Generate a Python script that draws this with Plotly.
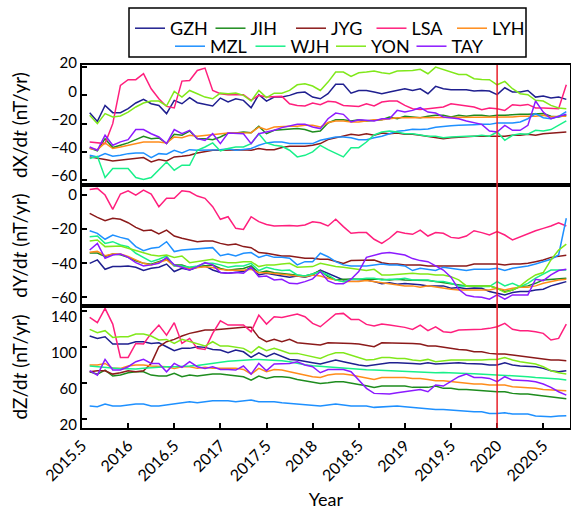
import plotly.graph_objects as go
from plotly.subplots import make_subplots

# Monthly epochs (decimal years) of the secular-variation series
N_MONTHS = 63
years = [2015.5 + (k + 1) / 12 for k in range(N_MONTHS)]

stations = ["GZH", "JIH", "JYG", "LSA", "LYH", "MZL", "WJH", "YON", "TAY"]
colors = {
    "GZH": "#1f1f8f", "JIH": "#1e8c1e", "JYG": "#8b1a1a", "LSA": "#ff1f7d",
    "LYH": "#ff8c1a", "MZL": "#1e90ff", "WJH": "#19f08a", "YON": "#80e81a",
    "TAY": "#8c1aff",
}

# ---- dX/dt (nT/yr) ----
GZH_dX = [-12.2, -18.4, -7.1, -12.2, -12.2, -9.4, -5.4, -2.8, -5.9, -7.1,
          -12.9, -3.5, -5.9, -1.6, -5.2, -6.6, -7.5, -1.9, -4.7, -2.4,
          -3.5, -8.7, 0.5, -4.0, -1.2, -1.2, 0.0, 1.9, 2.4, -1.2,
          -2.4, 1.2, 7.8, 7.8, 1.6, 3.5, 3.5, 2.4, 1.2, 2.4,
          3.5, 4.7, 3.5, 4.7, 1.2, 6.4, 4.7, 4.0, 4.0, 4.0,
          3.1, 3.5, 3.1, 0.5, 5.4, 2.4, 2.4, 3.5, -1.2, -0.5,
          -1.9, -1.2, -2.8]
JIH_dX = [-37.2, -39.3, -30.6, -36.9, -35.3, -33.6, -31.3, -28.9, -30.6, -30.1,
          -34.1, -27.5, -28.2, -25.2, -30.6, -30.6, -31.3, -29.4, -26.6, -26.6,
          -25.9, -26.4, -21.9, -27.1, -24.7, -24.2, -23.5, -23.5, -24.2, -25.9,
          -25.2, -19.5, -17.2, -17.2, -18.1, -17.2, -18.1, -17.6, -17.2, -15.3,
          -16.5, -14.8, -15.3, -15.8, -14.8, -14.1, -14.1, -15.3, -14.1, -14.8,
          -14.1, -14.1, -14.8, -14.1, -14.1, -13.6, -13.4, -13.4, -13.4, -12.9,
          -14.8, -15.3, -14.1]
JYG_dX = [-43.5, -44.7, -45.4, -46.4, -45.9, -45.4, -44.7, -44.0, -47.1, -45.4,
          -46.4, -43.5, -43.1, -42.4, -40.7, -40.0, -38.8, -38.8, -38.6, -38.8,
          -38.4, -38.8, -37.6, -38.4, -38.4, -36.9, -36.0, -36.0, -36.0, -35.3,
          -34.1, -31.3, -29.9, -28.9, -27.5, -28.2, -27.1, -28.2, -26.6, -27.1,
          -26.6, -27.5, -27.5, -28.2, -28.9, -29.4, -30.6, -29.9, -29.4, -29.4,
          -28.9, -28.9, -28.9, -28.9, -28.9, -28.2, -28.2, -27.5, -28.2, -27.1,
          -26.6, -25.9, -25.9]
LSA_dX = [-32.9, -33.4, -34.1, -20.0, 7.1, 11.1, 11.1, 15.3, 4.7, -2.4,
          -7.8, -8.9, 10.1, 10.6, 17.6, 19.3, 3.5, 1.2, 0.5, 0.5,
          0.5, -3.5, 0.0, -1.2, -1.2, -0.7, -5.9, -7.1, -7.5, -5.4,
          -6.6, -4.2, -4.7, -7.1, -7.5, -7.8, -5.9, -7.5, -4.7, -4.0,
          -4.0, -7.1, -9.4, -9.9, -9.4, -8.9, -8.2, -5.9, -6.6, -7.8,
          -8.2, -10.1, -8.9, -9.4, -10.6, -6.6, -7.1, -6.4, -8.9, -8.9,
          -8.9, -9.4, 7.5]
LYH_dX = [-37.6, -38.4, -33.6, -37.6, -36.5, -35.3, -33.6, -32.9, -32.9, -32.9,
          -33.6, -29.4, -29.9, -28.2, -28.9, -28.2, -27.5, -27.1, -26.6, -26.6,
          -26.4, -26.4, -22.4, -24.2, -22.4, -21.9, -21.9, -21.9, -21.2, -21.2,
          -22.4, -19.2, -18.1, -18.1, -18.8, -18.8, -18.1, -17.2, -17.2, -16.5,
          -15.8, -15.8, -15.8, -15.8, -15.8, -15.3, -15.8, -15.8, -15.3, -15.8,
          -15.3, -15.3, -15.8, -15.8, -15.3, -15.3, -14.8, -14.8, -14.8, -14.1,
          -15.3, -14.8, -14.8]
MZL_dX = [-42.4, -43.5, -41.2, -43.1, -42.4, -41.2, -40.7, -40.7, -44.0, -41.2,
          -41.6, -38.8, -40.7, -38.4, -38.8, -38.8, -38.4, -38.4, -37.8, -38.8,
          -38.2, -37.6, -35.3, -33.6, -32.9, -32.9, -34.1, -34.1, -34.1, -34.1,
          -31.8, -30.6, -29.4, -29.4, -29.9, -31.3, -31.3, -29.9, -28.9, -27.1,
          -25.4, -24.8, -24.0, -24.2, -23.7, -22.6, -21.8, -21.4, -21.2, -20.7,
          -20.7, -20.5, -20.5, -19.5, -19.5, -19.5, -18.8, -16.5, -12.9, -15.8,
          -16.5, -14.8, -11.5]
WJH_dX = [-44.7, -43.1, -58.1, -51.8, -51.8, -51.8, -58.1, -59.5, -58.1, -52.9,
          -47.1, -52.9, -49.4, -49.4, -38.8, -36.5, -33.6, -39.3, -37.6, -36.5,
          -36.5, -34.1, -27.1, -33.6, -35.3, -36.0, -38.8, -43.5, -42.4, -40.0,
          -35.3, -38.4, -41.0, -43.5, -37.0, -37.0, -33.0, -28.0, -25.9, -25.2,
          -25.9, -27.1, -27.1, -28.2, -28.9, -28.9, -29.9, -29.4, -28.9, -28.9,
          -28.9, -28.2, -28.9, -25.9, -31.8, -28.2, -27.1, -27.5, -24.7, -25.2,
          -24.2, -21.2, -18.0]
YON_dX = [-14.1, -20.0, -12.9, -15.3, -14.6, -11.8, -8.2, -5.4, -4.0, -4.0,
          -7.5, 2.8, -1.2, 3.5, 1.2, -1.2, -2.4, 1.6, 1.2, 1.6,
          0.0, -4.0, 3.5, -1.6, 1.6, 1.6, 3.5, 7.5, 8.2, 6.6,
          3.5, 9.4, 16.5, 16.5, 13.4, 16.0, 16.5, 17.2, 16.0, 15.3,
          17.2, 17.2, 17.6, 18.4, 15.3, 20.0, 18.4, 16.5, 14.8, 14.8,
          11.8, 11.3, 11.1, 7.5, 9.9, 4.7, 1.2, 0.5, -3.5, -4.0,
          -7.1, -8.9, -9.4]
TAY_dX = [-36.5, -38.8, -28.2, -35.3, -32.9, -31.3, -24.2, -24.2, -27.1, -29.4,
          -34.1, -24.2, -27.1, -24.7, -30.6, -31.8, -27.1, -34.1, -26.6, -27.1,
          -27.1, -34.1, -27.1, -25.9, -24.7, -22.8, -21.9, -20.5, -20.5, -22.4,
          -23.5, -16.5, -12.5, -13.4, -18.8, -17.2, -17.6, -18.1, -16.5, -16.5,
          -10.6, -11.8, -10.6, -8.7, -11.8, -12.5, -15.3, -15.8, -16.5, -18.1,
          -19.5, -20.5, -25.2, -25.9, -21.2, -24.7, -24.7, -21.2, -4.0, -11.8,
          -16.5, -14.8, -13.4]

# ---- dY/dt (nT/yr) ----
GZH_dY = [-40.0, -38.0, -43.5, -41.9, -41.9, -41.5, -42.3, -44.2, -42.9, -42.3,
          -40.4, -44.8, -42.9, -43.9, -42.3, -41.5, -43.9, -45.4, -45.8, -45.4,
          -44.8, -42.3, -46.8, -45.8, -46.8, -47.4, -48.1, -47.4, -48.1, -46.8,
          -43.9, -45.8, -47.8, -49.7, -49.3, -49.7, -49.7, -50.7, -52.0, -51.4,
          -52.3, -51.8, -52.0, -52.6, -53.2, -53.2, -53.2, -54.6, -54.1, -54.9,
          -54.4, -54.6, -56.5, -57.5, -58.5, -57.1, -56.5, -56.5, -55.6, -55.2,
          -53.2, -52.0, -50.7]
JIH_dY = [-34.0, -34.0, -36.0, -34.5, -35.0, -36.5, -38.5, -40.0, -40.5, -39.0,
          -37.5, -41.0, -41.0, -42.5, -42.0, -41.5, -41.0, -43.0, -44.0, -43.5,
          -43.0, -41.5, -45.5, -44.5, -45.5, -46.0, -46.5, -46.8, -47.4, -46.2,
          -44.2, -47.8, -49.7, -49.3, -49.3, -49.3, -48.9, -49.3, -49.3, -49.7,
          -49.3, -49.7, -49.7, -49.7, -50.1, -50.7, -51.3, -52.0, -52.6, -53.2,
          -53.2, -53.2, -53.2, -54.6, -56.5, -55.6, -53.6, -53.2, -51.7, -49.7,
          -49.3, -49.3, -48.7]
JYG_dY = [-10.7, -13.1, -15.0, -13.6, -14.2, -16.2, -18.9, -20.9, -20.5, -22.8,
          -20.5, -24.0, -25.3, -26.3, -27.3, -26.9, -26.9, -28.3, -29.2, -28.7,
          -30.2, -30.8, -33.7, -34.1, -35.1, -35.7, -35.7, -36.5, -37.0, -37.0,
          -37.6, -37.6, -39.0, -40.0, -38.4, -38.4, -38.0, -38.0, -39.6, -40.4,
          -40.4, -40.9, -40.9, -40.9, -41.5, -41.5, -41.5, -41.9, -41.5, -41.5,
          -40.4, -40.4, -40.4, -40.4, -40.9, -40.4, -40.4, -40.0, -39.0, -38.0,
          -36.5, -35.7, -35.3]
LSA_dY = [3.3, 3.9, 0.0, -8.4, 0.6, 2.5, 0.0, 2.9, 0.6, -6.8,
          -1.9, -1.9, 2.5, 1.9, -0.6, -1.9, -6.8, -14.2, -12.7, -19.5,
          -20.1, -12.7, -15.6, -17.2, -18.1, -17.9, -17.9, -18.1, -17.5, -15.6,
          -16.2, -18.1, -14.2, -18.5, -22.4, -22.0, -22.0, -25.9, -28.3, -25.3,
          -21.4, -22.4, -23.0, -20.5, -24.0, -22.0, -22.4, -24.8, -25.3, -24.0,
          -20.9, -22.0, -23.4, -21.4, -23.4, -26.3, -24.4, -22.4, -20.9, -19.5,
          -18.1, -16.2, -18.1]
LYH_dY = [-33.5, -33.0, -35.5, -34.5, -34.5, -36.0, -38.0, -40.0, -41.0, -39.5,
          -38.0, -41.5, -42.0, -43.0, -42.5, -42.0, -42.5, -43.5, -44.0, -44.0,
          -44.0, -43.5, -45.5, -45.5, -46.0, -46.5, -47.0, -47.4, -47.8, -46.8,
          -47.4, -48.7, -49.7, -50.7, -50.7, -50.7, -50.1, -50.7, -51.7, -52.0,
          -52.6, -53.2, -53.2, -54.0, -53.2, -54.0, -54.6, -55.2, -55.6, -55.6,
          -55.6, -55.6, -55.6, -54.6, -55.6, -54.6, -54.0, -54.0, -53.2, -51.7,
          -50.7, -49.7, -49.3]
MZL_dY = [-20.9, -22.4, -25.9, -23.4, -24.8, -25.9, -30.2, -32.6, -31.2, -30.6,
          -27.3, -33.1, -32.2, -31.8, -31.2, -30.8, -30.8, -35.5, -34.5, -35.7,
          -34.1, -33.7, -36.5, -35.1, -36.5, -36.5, -37.0, -40.9, -39.0, -39.0,
          -34.1, -36.1, -39.0, -40.9, -41.5, -41.5, -41.5, -40.9, -40.4, -40.9,
          -40.9, -41.5, -44.2, -42.9, -43.5, -44.2, -42.3, -42.9, -43.5, -44.2,
          -43.5, -43.5, -43.5, -42.9, -44.2, -42.9, -42.3, -41.5, -40.4, -39.0,
          -37.6, -35.1, -13.6]
WJH_dY = [-24.4, -24.0, -28.3, -27.3, -29.2, -30.2, -34.1, -36.5, -39.0, -37.6,
          -35.7, -41.5, -41.5, -42.3, -41.5, -40.0, -40.0, -40.9, -42.3, -41.5,
          -41.5, -40.0, -44.2, -42.3, -43.5, -44.2, -43.9, -46.8, -47.4, -46.2,
          -44.8, -46.8, -49.7, -50.7, -49.3, -49.3, -48.7, -48.7, -49.7, -49.3,
          -49.3, -48.7, -49.7, -49.7, -49.7, -50.7, -50.7, -51.7, -53.2, -53.2,
          -53.6, -53.6, -53.6, -50.7, -53.2, -51.7, -53.6, -51.7, -48.7, -46.2,
          -43.9, -43.9, -43.9]
YON_dY = [-26.9, -26.3, -30.2, -29.8, -29.8, -31.2, -32.6, -33.7, -35.1, -35.7,
          -35.1, -36.5, -35.7, -39.6, -39.0, -38.4, -37.6, -39.0, -39.6, -39.6,
          -39.0, -39.0, -41.9, -40.9, -40.9, -40.4, -40.0, -42.3, -42.3, -41.9,
          -40.0, -40.9, -41.9, -42.3, -42.9, -43.5, -44.2, -43.5, -46.8, -46.8,
          -46.4, -46.2, -45.8, -46.2, -46.2, -46.8, -46.8, -47.8, -49.7, -53.2,
          -53.2, -53.2, -53.2, -54.6, -57.1, -55.6, -53.2, -49.7, -46.8, -45.4,
          -38.0, -32.2, -28.7]
TAY_dY = [-32.2, -28.3, -37.0, -35.1, -34.5, -36.5, -39.6, -41.5, -40.9, -40.0,
          -36.5, -40.9, -42.3, -43.9, -41.9, -39.6, -40.9, -45.4, -45.8, -45.4,
          -45.8, -42.3, -47.8, -47.4, -49.7, -49.3, -51.7, -52.0, -50.7, -49.1,
          -44.8, -50.3, -52.0, -52.0, -49.3, -44.8, -36.5, -35.1, -34.1, -33.7,
          -34.5, -35.1, -37.2, -38.4, -39.0, -41.5, -43.9, -48.1, -55.2, -58.7,
          -59.5, -59.8, -61.0, -58.5, -61.0, -58.5, -58.5, -58.5, -49.3, -50.1,
          -46.8, -44.2, -43.5]

# ---- dZ/dt (nT/yr) ----
GZH_dZ = [112.1, 109.5, 111.4, 103.2, 103.2, 103.2, 105.8, 105.8, 103.9, 104.7,
          100.2, 95.8, 98.4, 98.4, 100.2, 99.5, 97.2, 96.5, 93.5, 96.5,
          94.6, 88.3, 93.5, 89.1, 92.8, 89.1, 86.1, 85.4, 83.5, 82.4,
          80.9, 83.5, 85.4, 83.5, 81.6, 79.8, 78.7, 79.8, 81.6, 82.4,
          82.4, 82.4, 81.6, 80.9, 82.4, 80.9, 81.6, 81.6, 82.4, 81.6,
          81.6, 80.9, 79.8, 79.8, 82.4, 79.8, 78.7, 77.9, 77.9, 76.1,
          73.5, 72.3, 73.5]
JIH_dZ = [72.3, 69.7, 74.2, 67.5, 68.6, 71.2, 72.3, 72.3, 68.6, 67.5,
          67.5, 70.5, 66.8, 68.6, 67.5, 68.6, 69.7, 69.7, 68.6, 67.5,
          66.8, 63.0, 67.5, 64.9, 66.8, 66.8, 66.0, 63.8, 62.3, 61.2,
          59.3, 60.1, 61.2, 61.2, 60.1, 58.2, 56.7, 54.9, 56.4, 56.4,
          56.4, 56.4, 54.9, 54.9, 54.9, 56.4, 53.8, 53.8, 52.6, 52.6,
          51.9, 51.2, 51.2, 50.0, 50.0, 48.2, 47.4, 47.4, 46.3, 45.2,
          43.7, 42.6, 42.2]
JYG_dZ = [72.3, 73.5, 73.5, 69.7, 71.2, 73.5, 72.3, 73.5, 81.6, 100.2,
          105.8, 108.4, 112.1, 115.1, 117.0, 118.8, 118.8, 119.6, 120.7, 121.8,
          121.8, 121.8, 110.6, 105.8, 108.4, 105.8, 108.4, 104.7, 103.9, 102.5,
          102.1, 104.7, 104.7, 103.9, 103.9, 103.2, 102.1, 100.2, 104.7, 104.7,
          104.7, 104.7, 103.9, 103.2, 101.0, 101.0, 99.5, 98.4, 97.2, 96.5,
          94.6, 94.6, 92.8, 92.0, 92.0, 90.9, 89.8, 89.1, 88.3, 87.2,
          85.4, 85.4, 84.6]
LSA_dZ = [132.9, 127.0, 143.0, 125.5, 88.3, 88.3, 103.9, 103.2, 115.1, 124.4,
          113.2, 127.0, 103.9, 109.5, 98.4, 97.2, 115.1, 129.2, 124.4, 124.4,
          124.4, 117.0, 135.5, 125.5, 133.7, 132.9, 134.4, 136.7, 133.7, 126.2,
          122.5, 130.0, 136.7, 137.4, 130.7, 130.7, 125.1, 123.3, 125.5, 124.4,
          123.3, 121.8, 119.6, 124.4, 118.1, 122.5, 117.0, 116.2, 118.8, 118.8,
          118.8, 119.6, 120.7, 122.5, 126.2, 119.6, 118.1, 118.1, 117.0, 115.1,
          107.7, 109.5, 125.5]
LYH_dZ = [79.8, 79.8, 81.6, 76.1, 76.1, 78.7, 79.8, 79.8, 78.7, 78.7,
          77.9, 76.1, 77.9, 77.9, 76.1, 77.2, 76.1, 76.1, 76.1, 76.1,
          74.9, 69.7, 76.1, 72.3, 74.9, 74.2, 72.3, 70.5, 68.6, 66.8,
          66.0, 68.6, 69.7, 69.7, 68.6, 66.8, 64.9, 63.8, 66.0, 66.0,
          66.0, 66.0, 64.9, 64.9, 63.8, 62.3, 62.3, 61.2, 60.1, 59.3,
          58.6, 58.6, 57.5, 57.5, 57.5, 55.6, 54.9, 54.9, 53.8, 52.6,
          51.9, 51.9, 51.2]
MZL_dZ = [34.1, 33.3, 36.3, 34.1, 34.1, 35.2, 36.3, 36.3, 34.1, 34.1,
          35.2, 36.3, 37.0, 38.9, 37.8, 38.9, 40.0, 40.0, 40.0, 38.9,
          40.0, 40.7, 38.9, 38.9, 38.9, 37.8, 37.0, 36.3, 35.2, 34.1,
          34.1, 35.2, 36.3, 35.2, 34.1, 34.1, 34.1, 32.6, 33.3, 34.1,
          34.1, 33.3, 32.6, 31.5, 31.5, 30.3, 30.3, 29.6, 29.6, 28.8,
          27.7, 27.7, 25.9, 25.9, 26.6, 25.1, 25.1, 25.1, 22.9, 22.2,
          22.2, 22.9, 23.3]
WJH_dZ = [78.7, 77.9, 77.2, 76.1, 75.7, 75.7, 75.3, 76.1, 76.8, 77.5,
          77.9, 77.9, 77.9, 78.7, 79.4, 80.5, 82.4, 83.1, 83.9, 84.6,
          85.4, 85.7, 86.1, 85.7, 85.4, 84.6, 83.5, 81.5, 80.2, 79.0,
          78.3, 77.5, 76.8, 76.1, 75.3, 74.9, 74.6, 74.2, 73.8, 73.5,
          73.5, 73.1, 72.3, 72.0, 71.2, 71.2, 71.5, 70.9, 70.9, 70.5,
          70.1, 69.7, 69.4, 68.6, 68.3, 67.9, 67.5, 66.8, 66.0, 65.7,
          64.9, 64.2, 63.0]
YON_dZ = [119.6, 115.8, 118.1, 110.6, 111.4, 111.4, 114.3, 114.3, 112.1, 107.7,
          108.4, 103.9, 108.4, 105.8, 103.9, 101.0, 105.8, 101.0, 101.0, 99.5,
          98.4, 93.5, 100.2, 95.8, 98.4, 95.8, 92.8, 92.8, 90.9, 89.1,
          87.2, 90.9, 93.5, 93.5, 90.9, 88.3, 85.4, 86.1, 88.3, 88.3,
          87.2, 87.2, 85.4, 84.6, 86.1, 83.5, 84.6, 85.4, 85.4, 85.4,
          84.6, 85.4, 86.1, 86.1, 88.3, 85.4, 83.5, 82.4, 80.9, 77.9,
          73.5, 71.2, 69.7]
TAY_dZ = [73.5, 68.6, 86.1, 74.2, 74.2, 77.9, 83.5, 86.1, 81.6, 81.6,
          72.3, 81.6, 77.2, 83.5, 77.9, 76.1, 77.9, 74.9, 74.9, 74.2,
          78.7, 69.7, 81.6, 73.5, 80.9, 81.6, 81.6, 83.5, 79.8, 77.9,
          71.2, 74.9, 74.9, 74.9, 72.3, 63.0, 53.8, 48.2, 47.4, 47.4,
          48.9, 50.0, 51.2, 52.6, 50.0, 57.5, 56.4, 61.2, 66.8, 69.7,
          66.0, 66.0, 64.9, 61.2, 66.8, 63.0, 63.0, 62.3, 61.2, 58.6,
          54.9, 50.0, 46.3]

dX = {"GZH": GZH_dX, "JIH": JIH_dX, "JYG": JYG_dX, "LSA": LSA_dX, "LYH": LYH_dX,
      "MZL": MZL_dX, "WJH": WJH_dX, "YON": YON_dX, "TAY": TAY_dX}
dY = {"GZH": GZH_dY, "JIH": JIH_dY, "JYG": JYG_dY, "LSA": LSA_dY, "LYH": LYH_dY,
      "MZL": MZL_dY, "WJH": WJH_dY, "YON": YON_dY, "TAY": TAY_dY}
dZ = {"GZH": GZH_dZ, "JIH": JIH_dZ, "JYG": JYG_dZ, "LSA": LSA_dZ, "LYH": LYH_dZ,
      "MZL": MZL_dZ, "WJH": WJH_dZ, "YON": YON_dZ, "TAY": TAY_dZ}

x_tickvals = [2015.5, 2016, 2016.5, 2017, 2017.5, 2018, 2018.5, 2019, 2019.5, 2020, 2020.5]
x_ticktext = ["2015.5", "2016", "2016.5", "2017", "2017.5", "2018", "2018.5",
              "2019", "2019.5", "2020", "2020.5"]
# (values, axis title, y range, y ticks, tick-label nudge in px so that labels
#  of neighbouring panels do not collide at the shared borders; positive = down)
panels = [
    (dX, "dX/d<i>t</i> (nT/yr)", [-63.5, 21.5], [-60, -40, -20, 0, 20], -4),
    (dY, "dY/d<i>t</i> (nT/yr)", [-65, 5.8], [-60, -40, -20, 0], 0),
    (dZ, "dZ/d<i>t</i> (nT/yr)", [9.6, 145.6], [20, 60, 100, 140], 6),
]
event_year = 2020.0
row1_legend = ["GZH", "JIH", "JYG", "LSA", "LYH"]

FONT = "Lato, 'Open Sans', sans-serif"
fig = make_subplots(rows=3, cols=1, shared_xaxes=True, vertical_spacing=0)

for r, (comp, title, yr, yticks, shift) in enumerate(panels, start=1):
    for st in stations:
        fig.add_trace(
            go.Scatter(
                x=years, y=comp[st], mode="lines", name=st,
                line=dict(color=colors[st], width=1.5),
                showlegend=(r == 1),
                legend="legend" if st in row1_legend else "legend2",
            ),
            row=r, col=1,
        )
    fig.update_yaxes(
        row=r, col=1, range=yr, tickmode="array", tickvals=yticks,
        showline=True, mirror=True, linecolor="black", linewidth=2,
        showgrid=False, zeroline=False, ticks="inside", ticklen=5,
        tickwidth=1.5, tickcolor="black", tickfont=dict(size=15),
        ticklabelshift=shift,
        title=dict(text=title, font=dict(size=19), standoff=18),
        automargin=False,
    )
    fig.update_xaxes(
        row=r, col=1, range=[2015.5, 2020.79], tickmode="array",
        tickvals=x_tickvals, ticktext=x_ticktext,
        showline=True, mirror=True, linecolor="black", linewidth=2,
        showgrid=False, zeroline=False,
        ticks="inside" if r == 3 else "", ticklen=5, tickwidth=1.5,
        tickcolor="black", showticklabels=(r == 3), tickangle=-45,
        tickfont=dict(size=16), automargin=False,
    )

fig.update_layout(yaxis=dict(domain=[0.669, 1.0]),
                  yaxis2=dict(domain=[0.336, 0.669]),
                  yaxis3=dict(domain=[0.0, 0.336]))
fig.update_xaxes(row=3, col=1, title=dict(text="Year", font=dict(size=18), standoff=10))

legend_common = dict(
    orientation="h", xanchor="left", yanchor="top",
    entrywidth=35.5, entrywidthmode="pixels",
    font=dict(size=18, family=FONT), bgcolor="rgba(0,0,0,0)", borderwidth=0,
)
fig.update_layout(
    width=571, height=515,
    margin=dict(l=82, r=1, t=65, b=87),
    paper_bgcolor="white", plot_bgcolor="white",
    font=dict(family=FONT, size=16, color="black"),
    legend=dict(x=(130 - 82) / 488, y=(428 - 10) / 363, **legend_common),
    legend2=dict(x=(170 - 82) / 488, y=(428 - 28) / 363, **legend_common),
    shapes=[
        dict(type="rect", xref="paper", yref="paper",
             x0=(129 - 82) / 488, x1=(526 - 82) / 488,
             y0=(428 - 57) / 363, y1=(428 - 8) / 363,
             line=dict(color="black", width=1.5), fillcolor="rgba(0,0,0,0)"),
        dict(type="line", xref="x", yref="paper", x0=event_year, x1=event_year,
             y0=0, y1=1, line=dict(color="#e8202a", width=1.5), layer="above"),
    ],
)

fig.write_html("out.html")
